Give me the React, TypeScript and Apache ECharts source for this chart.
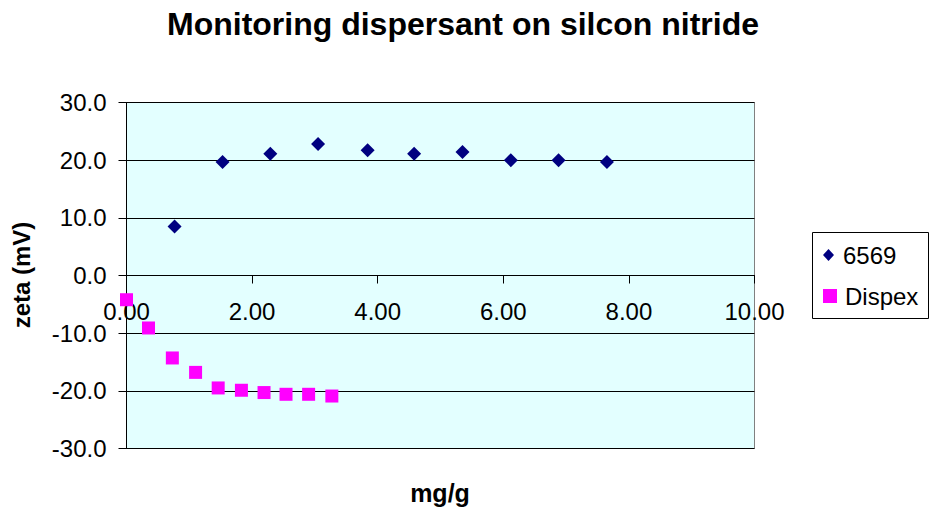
import React, { useEffect, useRef } from "react";
import * as echarts from "echarts";

const seriesNames = ["6569", "Dispex"];
const x6569 = [0.765, 1.53, 2.29, 3.05, 3.84, 4.58, 5.35, 6.12, 6.88, 7.65];
const y6569 = [8.5, 19.7, 21.1, 22.8, 21.7, 21.1, 21.4, 20.0, 20.0, 19.7];
const xDispex = [0.0, 0.35, 0.73, 1.1, 1.46, 1.83, 2.19, 2.54, 2.9, 3.27];
const yDispex = [-4.2, -9.1, -14.3, -16.8, -19.5, -19.9, -20.3, -20.6, -20.6, -20.9];
const titleText = "Monitoring dispersant on silcon nitride";
const xAxisTitle = "mg/g";
const yAxisTitle = "zeta (mV)";

export default function App() {
  const ref = useRef<HTMLDivElement>(null);
  useEffect(() => {
    if (!ref.current) return;
    const chart = echarts.init(ref.current, null, { renderer: "svg" });
    const font = "Liberation Sans, Arial, sans-serif";
    const gridTop = 102.5;
    const gridBottomY = 448.5;
    const zeroY = (gridTop + gridBottomY) / 2;
    chart.setOption({
      animation: false,
      backgroundColor: "#ffffff",
      textStyle: { fontFamily: font },
      title: {
        text: titleText,
        left: 458,
        top: 3,
        textAlign: "center",
        textStyle: { fontSize: 32, fontWeight: "bold", color: "#000", fontFamily: font },
      },
      grid: {
        left: 126.5,
        top: gridTop,
        right: 176.5,
        bottom: 508 - gridBottomY,
        show: true,
        backgroundColor: "#E3FFFF",
        borderColor: "#808080",
        borderWidth: 1,
      },
      legend: [
        {
          orient: "vertical",
          left: 823,
          top: 243,
          padding: 0,
          itemWidth: 11,
          itemHeight: 12,
          textStyle: { fontSize: 24, color: "#000", fontFamily: font, padding: [0, 0, 0, 4] },
          data: [{ name: seriesNames[0], icon: "diamond" }],
        },
        {
          orient: "vertical",
          left: 823,
          top: 284,
          padding: 0,
          itemWidth: 14,
          itemHeight: 14,
          textStyle: { fontSize: 24, color: "#000", fontFamily: font, padding: [0, 0, 0, 3] },
          data: [{ name: seriesNames[1], icon: "rect" }],
        },
      ],
      xAxis: {
        type: "value",
        min: 0,
        max: 10,
        interval: 2,
        offset: -(gridBottomY - zeroY),
        axisLine: { show: true, onZero: false, lineStyle: { color: "#000", width: 1 } },
        axisTick: { show: true, inside: false, length: 8, lineStyle: { color: "#000" } },
        axisLabel: {
          fontSize: 24,
          color: "#000",
          margin: 24,
          fontFamily: font,
          formatter: (v: number) => v.toFixed(2),
        },
        splitLine: { show: false },
      },
      yAxis: {
        type: "value",
        min: -30,
        max: 30,
        interval: 10,
        axisLine: { show: true, lineStyle: { color: "#000", width: 1 } },
        axisTick: { show: true, inside: false, length: 8, lineStyle: { color: "#000" } },
        axisLabel: {
          fontSize: 24,
          color: "#000",
          margin: 20,
          fontFamily: font,
          formatter: (v: number) => v.toFixed(1),
        },
        splitLine: { show: true, lineStyle: { color: "#000", width: 1 } },
      },
      graphic: [
        {
          type: "rect",
          shape: { x: 812.5, y: 232.5, width: 116, height: 86 },
          style: { fill: "none", stroke: "#000", lineWidth: 1 },
          z: 10,
        },
        {
          type: "text",
          x: 440,
          y: 493,
          style: {
            text: xAxisTitle,
            fill: "#000",
            font: `bold 25px ${font}`,
            textAlign: "center",
            textVerticalAlign: "middle",
          },
        },
        {
          type: "text",
          x: 21,
          y: 275,
          rotation: Math.PI / 2,
          style: {
            text: yAxisTitle,
            fill: "#000",
            font: `bold 24px ${font}`,
            textAlign: "center",
            textVerticalAlign: "middle",
          },
        },
      ],
      series: [
        {
          name: seriesNames[0],
          type: "scatter",
          symbol: "diamond",
          symbolSize: 14,
          itemStyle: { color: "#000080", opacity: 1 },
          data: x6569.map((x, i) => [x, y6569[i]]),
        },
        {
          name: seriesNames[1],
          type: "scatter",
          symbol: "rect",
          symbolSize: 13,
          itemStyle: { color: "#FF00FF", opacity: 1 },
          data: xDispex.map((x, i) => [x, yDispex[i]]),
        },
      ],
    });
    return () => chart.dispose();
  }, []);
  return <div ref={ref} style={{ position: "fixed", left: 0, top: 0, width: 931, height: 508 }} />;
}
